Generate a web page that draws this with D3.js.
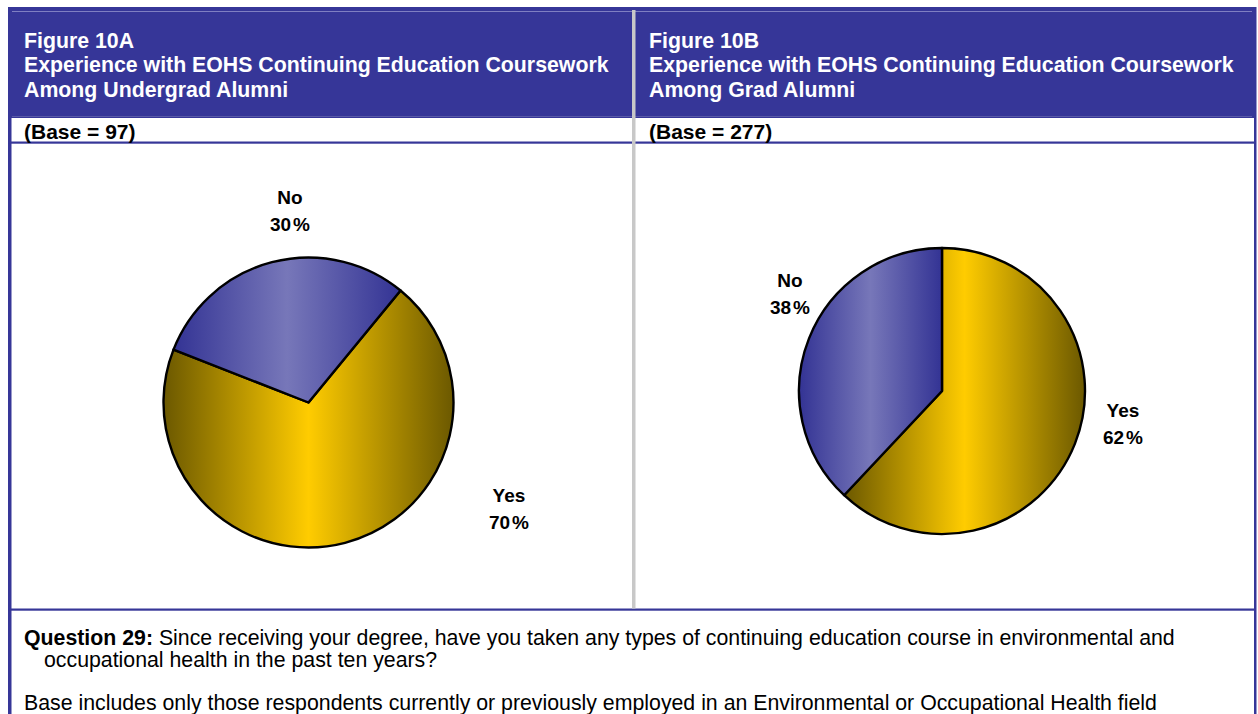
<!DOCTYPE html>
<html>
<head>
<meta charset="utf-8">
<script src="https://cdn.jsdelivr.net/npm/d3@7"></script>
<style>
  body { margin: 0; background: #fff; }
  svg { display: block; font-family: Arial, "Liberation Sans", sans-serif; }
</style>
</head>
<body>
<svg id="chart" width="1258" height="714"></svg>
<script>
// data
var categories = ["Yes", "No"];
var undergradValues = [70, 30];
var gradValues = [62, 38];
var panelTitles = [
  ["Figure 10A", "Experience with EOHS Continuing Education Coursework", "Among Undergrad Alumni"],
  ["Figure 10B", "Experience with EOHS Continuing Education Coursework", "Among Grad Alumni"]
];
var baseLabels = ["(Base = 97)", "(Base = 277)"];

var svg = d3.select("#chart");
var navy = "#363698";

// gradients: dark at the edges, bright in the middle of each slice
var defs = svg.append("defs");
function grad(id, dark, bright) {
  var g = defs.append("linearGradient").attr("id", id)
    .attr("x1", 0).attr("x2", 1).attr("y1", 0).attr("y2", 0);
  g.append("stop").attr("offset", "0%").attr("stop-color", dark);
  g.append("stop").attr("offset", "50%").attr("stop-color", bright);
  g.append("stop").attr("offset", "100%").attr("stop-color", dark);
}
grad("g-yes", "#6b5800", "#ffcc00");
grad("g-no", "#333394", "#7777b9");
var fills = { "Yes": "url(#g-yes)", "No": "url(#g-no)" };

// frame
svg.append("rect").attr("x", 8).attr("y", 7).attr("width", 1248).attr("height", 111).attr("fill", navy);
svg.append("line").attr("x1", 12).attr("x2", 1252).attr("y1", 11.5).attr("y2", 11.5)
  .attr("stroke", "#7f7fc2").attr("stroke-width", 1);
svg.append("line").attr("x1", 12).attr("x2", 1252).attr("y1", 116.5).attr("y2", 116.5)
  .attr("stroke", "#5a5aa8").attr("stroke-width", 1);
svg.append("rect").attr("x", 8).attr("y", 7).attr("width", 3.5).attr("height", 707).attr("fill", navy);
svg.append("rect").attr("x", 1254).attr("y", 7).attr("width", 2.5).attr("height", 707).attr("fill", navy);
svg.append("rect").attr("x", 8).attr("y", 141.5).attr("width", 1248).attr("height", 2.2).attr("fill", navy);
svg.append("rect").attr("x", 8).attr("y", 608.5).attr("width", 1248).attr("height", 2.2).attr("fill", navy);
svg.append("rect").attr("x", 632).attr("y", 10).attr("width", 3.5).attr("height", 598.5).attr("fill", "#c8c8c8");

// header texts
var panelX = [24, 649];
panelTitles.forEach(function (lines, i) {
  var t = svg.append("text").attr("fill", "#fff").style("font-weight", "bold").style("font-size", "21.3px");
  lines.forEach(function (l, j) {
    t.append("tspan").attr("x", panelX[i]).attr("y", 47.5 + j * 24.5).text(l);
  });
  svg.append("text").attr("x", panelX[i]).attr("y", 138.5).style("font-weight", "bold")
    .style("font-size", "21px").attr("fill", "#000").text(baseLabels[i]);
});

// pies
var pies = [
  { values: undergradValues, cx: 308.5, cy: 402.5, r: 145, start: 39.4,
    labels: { "No": [290, 204], "Yes": [509, 502] } },
  { values: gradValues, cx: 942, cy: 391, r: 143, start: 0,
    labels: { "No": [790, 287], "Yes": [1123, 417] } }
];

pies.forEach(function (p) {
  var data = categories.map(function (c, i) { return { cat: c, value: p.values[i] }; });
  var pie = d3.pie().sort(null).value(function (d) { return d.value; })
    .startAngle(p.start * Math.PI / 180).endAngle(p.start * Math.PI / 180 + 2 * Math.PI);
  var arc = d3.arc().innerRadius(0).outerRadius(p.r);
  var g = svg.append("g").attr("transform", "translate(" + p.cx + "," + p.cy + ")");
  g.selectAll("path").data(pie(data)).enter().append("path")
    .attr("d", arc)
    .attr("fill", function (d) { return fills[d.data.cat]; })
    .attr("stroke", "#000").attr("stroke-width", 2.4).attr("stroke-linejoin", "round");

  data.forEach(function (d) {
    var pos = p.labels[d.cat];
    var t = svg.append("text").attr("text-anchor", "middle").style("font-weight", "bold")
      .style("font-size", "19px").attr("fill", "#000");
    t.append("tspan").attr("x", pos[0]).attr("y", pos[1]).text(d.cat);
    var pct = t.append("tspan").attr("x", pos[0]).attr("y", pos[1] + 27);
    pct.append("tspan").text(d.value);
    pct.append("tspan").attr("dx", 2).text("%");
  });
});

// footnote
var fs = "21.3px";
var q = svg.append("text").attr("x", 24).attr("y", 645).style("font-size", fs).attr("fill", "#000");
q.append("tspan").style("font-weight", "bold").text("Question 29:");
q.append("tspan").text(" Since receiving your degree, have you taken any types of continuing education course in environmental and");
svg.append("text").attr("x", 44).attr("y", 667).style("font-size", fs).attr("fill", "#000")
  .text("occupational health in the past ten years?");
svg.append("text").attr("x", 24).attr("y", 710).style("font-size", fs).attr("fill", "#000")
  .text("Base includes only those respondents currently or previously employed in an Environmental or Occupational Health field");
</script>
</body>
</html>
